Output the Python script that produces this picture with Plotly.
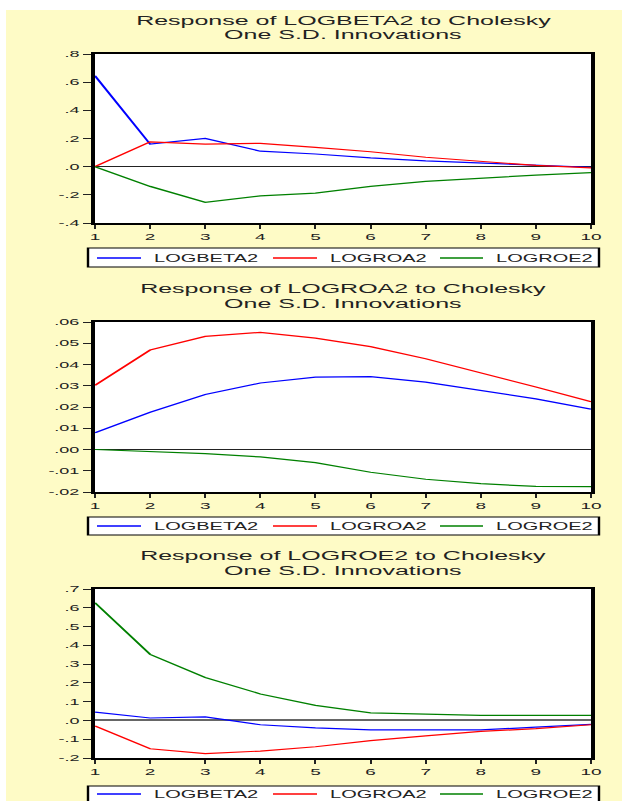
import plotly.graph_objects as go

# The chart is laid out on a narrow canvas and stretched horizontally on the page,
# which gives the wide lettering and the thick vertical strokes of the original export.
STRETCH = 2.0
FIG_W = 311
FIG_H = 801
PAGE_W = FIG_W * STRETCH

periods = list(range(1, 11))
series_names = ["LOGBETA2", "LOGROA2", "LOGROE2"]
series_colors = ["#0000FF", "#FF0000", "#008000"]

panel_titles = [
    ("Response of LOGBETA2 to Cholesky", "One S.D. Innovations"),
    ("Response of LOGROA2 to Cholesky", "One S.D. Innovations"),
    ("Response of LOGROE2 to Cholesky", "One S.D. Innovations"),
]

# Response of LOGBETA2
beta_to_beta = [0.645, 0.160, 0.200, 0.110, 0.090, 0.062, 0.041, 0.025, 0.009, -0.004]
beta_to_roa = [0.000, 0.176, 0.160, 0.166, 0.137, 0.106, 0.067, 0.036, 0.009, -0.009]
beta_to_roe = [0.000, -0.140, -0.253, -0.207, -0.188, -0.140, -0.104, -0.080, -0.060, -0.042]

# Response of LOGROA2
roa_to_beta = [0.0079, 0.0175, 0.0259, 0.0313, 0.0341, 0.0343, 0.0317, 0.0279, 0.0238, 0.0190]
roa_to_roa = [0.0302, 0.0468, 0.0532, 0.0551, 0.0524, 0.0484, 0.0427, 0.0362, 0.0294, 0.0225]
roa_to_roe = [0.0000, -0.0011, -0.0019, -0.0035, -0.0062, -0.0107, -0.0140, -0.0161, -0.0174, -0.0175]

# Response of LOGROE2
roe_to_beta = [0.044, 0.013, 0.019, -0.023, -0.040, -0.050, -0.050, -0.050, -0.036, -0.021]
roe_to_roa = [-0.029, -0.151, -0.177, -0.163, -0.140, -0.107, -0.082, -0.058, -0.044, -0.023]
roe_to_roe = [0.627, 0.352, 0.229, 0.141, 0.080, 0.040, 0.034, 0.027, 0.027, 0.027]

panel_series = [
    [beta_to_beta, beta_to_roa, beta_to_roe],
    [roa_to_beta, roa_to_roa, roa_to_roe],
    [roe_to_beta, roe_to_roa, roe_to_roe],
]

y_ranges = [[-0.4, 0.8], [-0.02, 0.06], [-0.2, 0.7]]
y_tickvals = [
    [-0.4, -0.2, 0.0, 0.2, 0.4, 0.6, 0.8],
    [-0.02, -0.01, 0.0, 0.01, 0.02, 0.03, 0.04, 0.05, 0.06],
    [-0.2, -0.1, 0.0, 0.1, 0.2, 0.3, 0.4, 0.5, 0.6, 0.7],
]
y_ticktext = [
    ["-.4", "-.2", ".0", ".2", ".4", ".6", ".8"],
    ["-.02", "-.01", ".00", ".01", ".02", ".03", ".04", ".05", ".06"],
    ["-.2", "-.1", ".0", ".1", ".2", ".3", ".4", ".5", ".6", ".7"],
]

# page geometry in page pixels (after stretching)
plot_left, plot_right = 95, 591
plot_rows = [(54, 223), (322, 492), (589, 758)]
title_rows = [(21, 35), (289, 304), (556, 571)]
legend_rows = [(248, 267), (517, 535), (786, 806)]
legend_mid = [258, 526, 794]
legend_box_x = (88, 599)
legend_samples = [(97, 141), (273, 317), (440, 483)]
legend_text_x = [149, 325, 492]
zero_styles = [("#222222", 1.2), ("#222222", 1.2), ("#666666", 2.0)]

BG_YELLOW = "#FEFBC6"
FONT = "Liberation Sans, Arial, sans-serif"


def px_x(x):
    return x / PAGE_W


def px_y(y):
    return 1 - y / FIG_H


fig = go.Figure()
shapes = [
    dict(type="rect", xref="paper", yref="paper", x0=px_x(6), x1=1, y0=0, y1=px_y(10),
         fillcolor=BG_YELLOW, line=dict(width=0), layer="below"),
]
annotations = []

for i in range(3):
    ax = "" if i == 0 else str(i + 1)
    top, bottom = plot_rows[i]
    shapes.append(dict(type="rect", xref="paper", yref="paper",
                       x0=px_x(plot_left), x1=px_x(plot_right),
                       y0=px_y(bottom), y1=px_y(top),
                       fillcolor="white", line=dict(width=0), layer="below"))
    for name, color, values in zip(series_names, series_colors, panel_series[i]):
        fig.add_trace(go.Scatter(
            x=periods, y=values, mode="lines", name=name,
            line=dict(color=color, width=1.2),
            xaxis="x" + ax, yaxis="y" + ax, showlegend=False,
        ))
    zc, zw = zero_styles[i]
    fig.layout["xaxis" + ax] = dict(
        domain=[px_x(plot_left), px_x(plot_right)], anchor="y" + ax,
        range=[1, 10], tickvals=periods, ticks="outside", ticklen=4, tickwidth=1,
        tickcolor="#222", showline=True, linecolor="black", linewidth=2, mirror=True,
        showgrid=False, zeroline=False, fixedrange=True,
        tickfont=dict(family=FONT, size=9.5, color="#222"),
    )
    fig.layout["yaxis" + ax] = dict(
        domain=[px_y(bottom), px_y(top)], anchor="x" + ax,
        range=y_ranges[i], tickvals=y_tickvals[i], ticktext=y_ticktext[i],
        ticks="outside", ticklen=4, tickwidth=1, tickcolor="#222",
        showline=True, linecolor="black", linewidth=2, mirror=True,
        showgrid=False, zeroline=True, zerolinecolor=zc, zerolinewidth=zw,
        fixedrange=True, tickfont=dict(family=FONT, size=9, color="#222"),
    )

    # legend box under each panel
    ltop, lbottom = legend_rows[i]
    lmid = legend_mid[i]
    shapes.append(dict(type="rect", xref="paper", yref="paper",
                       x0=px_x(legend_box_x[0]), x1=px_x(legend_box_x[1]),
                       y0=px_y(lbottom), y1=px_y(ltop),
                       fillcolor="white", line=dict(color="black", width=1.2),
                       layer="above"))
    for name, color, (sx0, sx1), tx in zip(series_names, series_colors,
                                           legend_samples, legend_text_x):
        shapes.append(dict(type="line", xref="paper", yref="paper",
                           x0=px_x(sx0), x1=px_x(sx1), y0=px_y(lmid), y1=px_y(lmid),
                           line=dict(color=color, width=1.5), layer="above"))
        annotations.append(dict(
            text=name, xref="paper", yref="paper", x=px_x(tx), y=px_y(lmid),
            xanchor="left", yanchor="middle", showarrow=False,
            font=dict(family=FONT, size=10, color="#222"),
        ))

    for line_text, y in zip(panel_titles[i], title_rows[i]):
        annotations.append(dict(
            text=line_text, xref="paper", yref="paper",
            x=px_x((plot_left + plot_right) / 2), y=px_y(y),
            xanchor="center", yanchor="middle", showarrow=False,
            font=dict(family=FONT, size=12.5, color="#222"),
        ))

fig.update_layout(
    width=FIG_W, height=FIG_H,
    margin=dict(l=0, r=0, t=0, b=0, autoexpand=False),
    paper_bgcolor="white", plot_bgcolor="rgba(0,0,0,0)",
    font=dict(family=FONT, color="#222"),
    shapes=shapes, annotations=annotations, showlegend=False,
)

stretch_js = """
document.body.style.margin = '0';
document.body.style.overflow = 'hidden';
var gd = document.getElementById('{plot_id}');
gd.style.transformOrigin = '0 0';
gd.style.transform = 'scaleX(%s)';
""" % STRETCH

fig.write_html("out.html", config={"displayModeBar": False, "staticPlot": True},
               post_script=stretch_js)
